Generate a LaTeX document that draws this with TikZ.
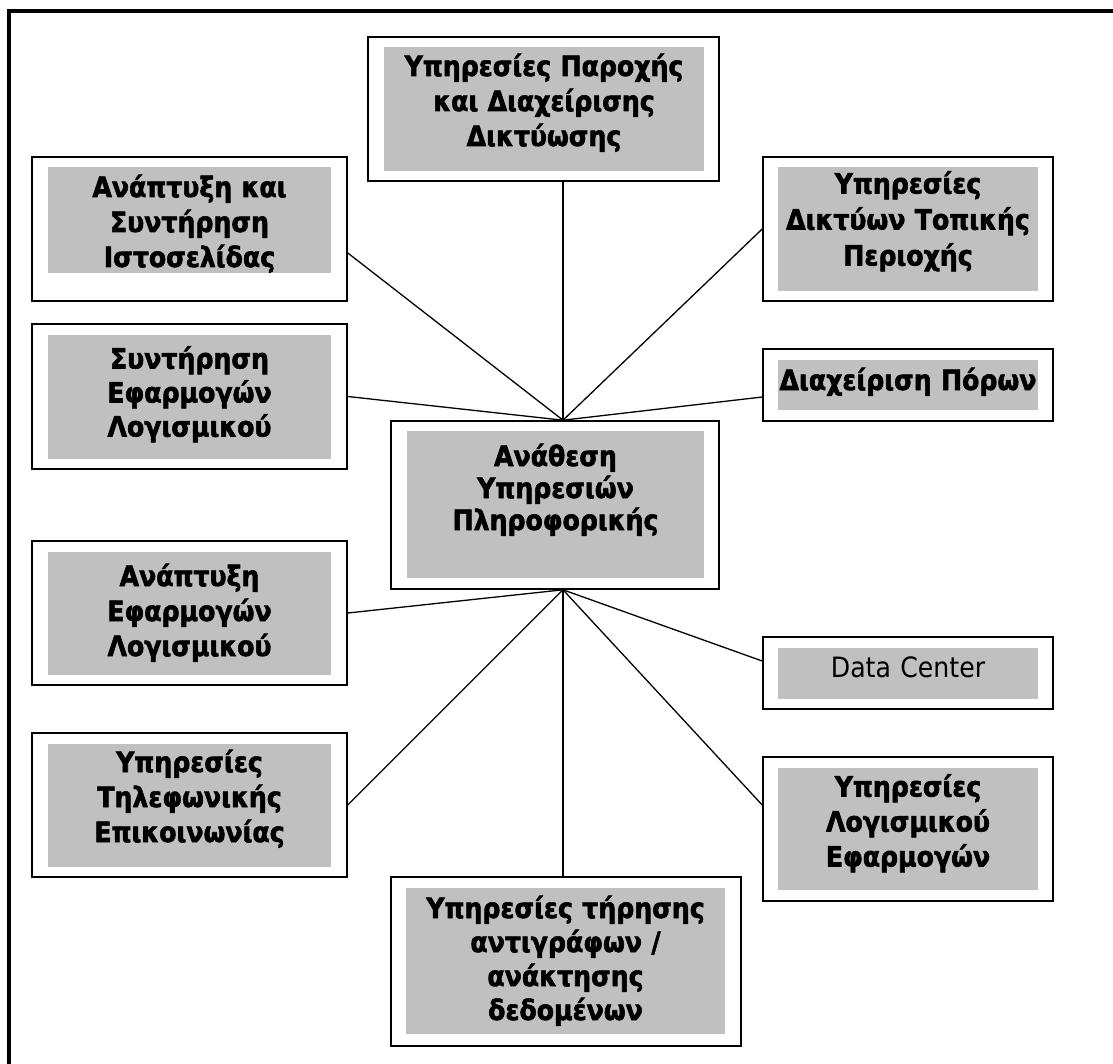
\documentclass[tikz,border=0pt]{standalone}
\usepackage{fontspec}
\setmainfont{DejaVuSansCondensed.ttf}[BoldFont=DejaVuSansCondensed-Bold.ttf, BoldFeatures={FakeBold=2}]
\definecolor{boxgray}{RGB}{192,192,192}
\begin{document}
\begin{tikzpicture}[x=1pt, y=-1pt]
    % Common styles
    \tikzstyle{frame}=[draw, line width=1.6pt, fill=white, inner sep=0pt]
    \tikzstyle{shade}=[fill=boxgray, inner sep=0pt, align=center, text height=21pt, font=\fontsize{28}{35}\selectfont\bfseries]
    \tikzstyle{link}=[line width=1.3pt]

    \useasboundingbox (0,0) rectangle (1113,1064);
    % Outer frame (open at right and bottom)
    \draw[line width=4pt] (9,1064) -- (9,11) -- (1113,11);

    % --- Centre ---
    \node[frame, minimum width=328pt, minimum height=168pt] (hub) at (555,505) {};
    \node[shade, text width=297pt, minimum height=147pt, text depth=98pt, font=\fontsize{28}{32}\selectfont\bfseries] (hubtxt) at (555.5,504.5) {Ανάθεση\\Υπηρεσιών\\Πληροφορικής};
    \coordinate (hubtop) at ([xshift=8pt]hub.north);
    \coordinate (hubbot) at ([xshift=8pt]hub.south);

    % --- Top and bottom ---
    \node[frame, minimum width=351pt, minimum height=144pt] (net) at (543.5,109) {};
    \node[shade, text width=320pt, minimum height=124pt, text depth=87pt] (nettxt) at (544,109) {Υπηρεσίες Παροχής\\και Διαχείρισης\\Δικτύωσης};
    \node[frame, minimum width=350pt, minimum height=169pt] (backup) at (566,961.5) {};
    \node[shade, text width=319pt, minimum height=146pt, text depth=107pt, font=\fontsize{28}{34}\selectfont\bfseries] (backuptxt) at (565.5,961) {Υπηρεσίες τήρησης\\αντιγράφων /\\ανάκτησης\\δεδομένων};

    % --- Left column ---
    \node[frame, minimum width=315pt, minimum height=144pt] (web) at (189.5,229) {};
    \node[shade, text width=283pt, minimum height=106pt, text depth=67pt] (webtxt) at (189.5,220) {Ανάπτυξη και\\Συντήρηση\\Ιστοσελίδας};
    \node[frame, minimum width=315pt, minimum height=145pt] (maint) at (189.5,396.5) {};
    \node[shade, text width=283pt, minimum height=124pt, text depth=78pt, font=\fontsize{28}{34}\selectfont\bfseries] (mainttxt) at (189.5,397) {Συντήρηση\\Εφαρμογών\\Λογισμικού};
    \node[frame, minimum width=315pt, minimum height=144pt] (dev) at (189.5,613) {};
    \node[shade, text width=283pt, minimum height=123pt, text depth=76pt] (devtxt) at (189.5,613.5) {Ανάπτυξη\\Εφαρμογών\\Λογισμικού};
    \node[frame, minimum width=315pt, minimum height=144pt] (tel) at (189.5,805) {};
    \node[shade, text width=283pt, minimum height=123pt, text depth=88pt] (teltxt) at (189.5,805.5) {Υπηρεσίες\\Τηλεφωνικής\\Επικοινωνίας};

    % --- Right column ---
    \node[frame, minimum width=290pt, minimum height=144pt] (lan) at (908,229) {};
    \node[shade, text width=260pt, minimum height=124pt, text depth=92pt, font=\fontsize{28}{36}\selectfont\bfseries] (lantxt) at (908,229) {Υπηρεσίες\\Δικτύων Τοπικής\\Περιοχής};
    \node[frame, minimum width=290pt, minimum height=72pt] (res) at (908,385) {};
    \node[shade, text width=260pt, minimum height=50pt, text depth=11pt] (restxt) at (908,385) {Διαχείριση Πόρων};
    \node[frame, minimum width=290pt, minimum height=72pt] (dc) at (908,673) {};
    \node[shade, text width=260pt, minimum height=51pt, text depth=14pt, font=\fontsize{28}{35}\selectfont] (dctxt) at (908,673.5) {Data Center};
    \node[frame, minimum width=290pt, minimum height=144pt] (app) at (908,829) {};
    \node[shade, text width=260pt, minimum height=122pt, text depth=86pt] (apptxt) at (908,829) {Υπηρεσίες\\Λογισμικού\\Εφαρμογών};

    % Links to the centre (top side)
    \draw[link] (net.south -| hubtop) -- (hubtop);
    \draw[link] ([yshift=-24pt]web.east) -- (hubtop);
    \draw[link] (lan.west) -- (hubtop);
    \draw[link] (maint.east) -- (hubtop);
    \draw[link] ([yshift=-12pt]res.west) -- (hubtop);

    % Links to the centre (bottom side)
    \draw[link] (dev.east) -- (hubbot);
    \draw[link] ([yshift=12pt]dc.west) -- (hubbot);
    \draw[link] (tel.east) -- (hubbot);
    \draw[link] ([yshift=24pt]app.west) -- (hubbot);
    \draw[link] (backup.north -| hubbot) -- (hubbot);

\end{tikzpicture}
\end{document}
